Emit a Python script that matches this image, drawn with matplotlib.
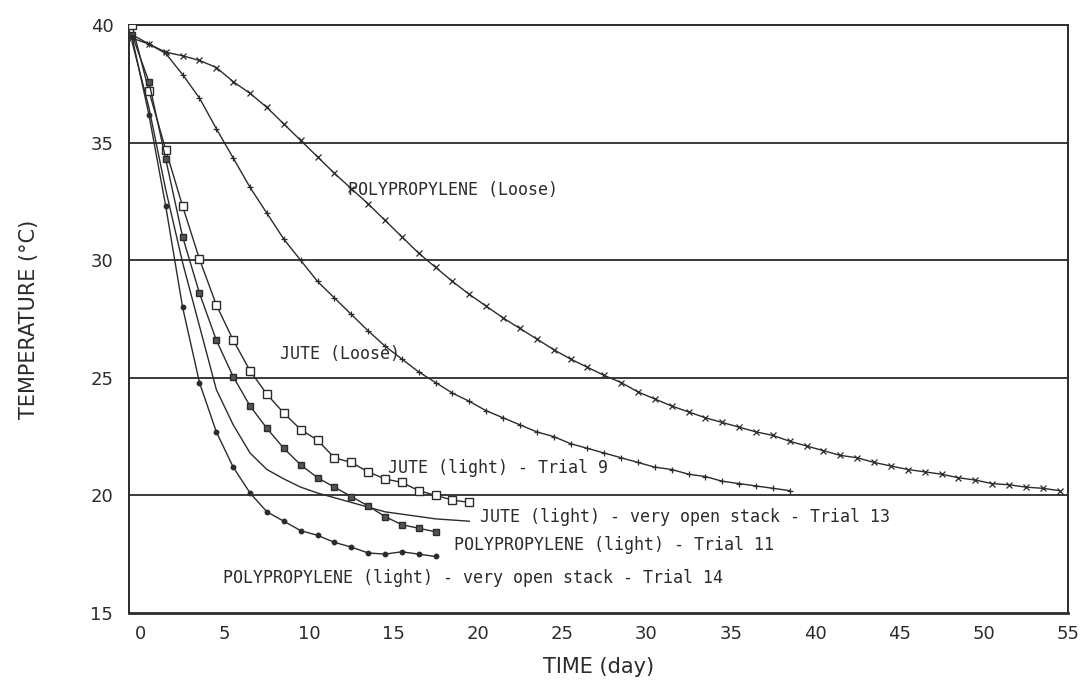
import matplotlib.pyplot as plt
import numpy as np

# cooling curves, temperature (deg C), one reading per day
poly_loose_t = np.arange(-0.5, 55.0, 1.0)
poly_loose = [39.45, 39.2, 38.85, 38.7, 38.5, 38.2, 37.6, 37.1, 36.5, 35.8,
              35.1, 34.4, 33.7, 33.05, 32.4, 31.7, 31.0, 30.3, 29.7, 29.1,
              28.55, 28.05, 27.55, 27.1, 26.65, 26.2, 25.8, 25.45, 25.1, 24.8,
              24.4, 24.1, 23.8, 23.55, 23.3, 23.1, 22.9, 22.7, 22.55, 22.3,
              22.1, 21.9, 21.7, 21.6, 21.4, 21.25, 21.1, 21.0, 20.9, 20.75,
              20.65, 20.5, 20.45, 20.35, 20.3, 20.2]

jute_loose_t = np.arange(-0.5, 39.0, 1.0)
jute_loose = [39.6, 39.2, 38.8, 37.9, 36.9, 35.6, 34.35, 33.1, 32.0, 30.9,
              30.0, 29.1, 28.4, 27.7, 27.0, 26.35, 25.8, 25.25, 24.8, 24.35,
              24.0, 23.6, 23.3, 23.0, 22.7, 22.5, 22.2, 22.0, 21.8, 21.6,
              21.4, 21.2, 21.1, 20.9, 20.8, 20.6, 20.5, 20.4, 20.3, 20.2]

jute_t9_t = np.arange(-0.5, 20.0, 1.0)
jute_t9 = [40.0, 37.2, 34.7, 32.3, 30.05, 28.1, 26.6, 25.3, 24.3, 23.5,
           22.8, 22.35, 21.6, 21.4, 21.0, 20.7, 20.55, 20.2, 20.0, 19.8, 19.7]

jute_t13_t = np.arange(-0.5, 20.0, 1.0)
jute_t13 = [39.3, 36.5, 33.0, 29.9, 27.2, 24.5, 23.0, 21.8, 21.1, 20.7,
            20.35, 20.1, 19.9, 19.7, 19.5, 19.3, 19.2, 19.1, 19.0, 18.95, 18.9]

poly_t11_t = np.arange(-0.5, 18.0, 1.0)
poly_t11 = [39.6, 37.6, 34.3, 31.0, 28.6, 26.6, 25.05, 23.8, 22.85, 22.0,
            21.3, 20.75, 20.35, 19.95, 19.55, 19.1, 18.75, 18.6, 18.45]

poly_t14_t = np.arange(-0.5, 18.0, 1.0)
poly_t14 = [39.5, 36.2, 32.3, 28.0, 24.8, 22.7, 21.2, 20.1, 19.3, 18.9,
            18.5, 18.3, 18.0, 17.8, 17.55, 17.5, 17.6, 17.5, 17.4]

x_ticks = [0, 5, 10, 15, 20, 25, 30, 35, 40, 45, 50, 55]
y_ticks = [15, 20, 25, 30, 35, 40]
grid_levels = [20, 25, 30, 35]

ink = "#2b2b2b"
plt.rcParams["font.family"] = ["DejaVu Sans"]

fig = plt.figure(figsize=(10.81, 6.81), dpi=100)
ax = fig.add_axes([0.119, 0.1, 0.869, 0.863])

for lvl in grid_levels:
    ax.axhline(lvl, color=ink, lw=1.3, zorder=1)

line_kw = dict(color=ink, lw=1.0, zorder=3)
ax.plot(poly_loose_t, poly_loose, marker="x", ms=5, mew=0.9, **line_kw)
ax.plot(jute_loose_t, jute_loose, marker="+", ms=5, mew=0.9, **line_kw)
ax.plot(jute_t9_t, jute_t9, marker="s", ms=6, mfc="white", mec=ink, mew=1.0, **line_kw)
ax.plot(jute_t13_t, jute_t13, **line_kw)
ax.plot(poly_t11_t, poly_t11, marker="s", ms=5, mfc="#555555", mec=ink, mew=1.0, **line_kw)
ax.plot(poly_t14_t, poly_t14, marker="o", ms=3.2, mfc=ink, mec=ink, **line_kw)

# curve labels, plotter-style fixed width lettering
txt = dict(fontsize=12, family="DejaVu Sans Mono", color=ink,
           va="center", ha="left", zorder=4)
ax.text(12.3, 33.0, "POLYPROPYLENE (Loose)", **txt)
ax.text(8.3, 26.0, "JUTE (Loose)", **txt)
ax.text(14.7, 21.15, "JUTE (light) - Trial 9", **txt)
ax.text(20.15, 19.1, "JUTE (light) - very open stack - Trial 13", **txt)
ax.text(18.6, 17.9, "POLYPROPYLENE (light) - Trial 11", **txt)
ax.text(4.9, 16.5, "POLYPROPYLENE (light) - very open stack - Trial 14", **txt)

ax.set_xlim(-0.7, 54.9)
ax.set_ylim(15, 40)
ax.set_xticks(x_ticks)
ax.set_yticks(y_ticks)
ax.tick_params(length=0, labelsize=13, colors=ink)
ax.tick_params(axis="x", pad=9)
ax.tick_params(axis="y", pad=11)

for side, spine in ax.spines.items():
    spine.set_color(ink)
    spine.set_linewidth(1.4)
ax.spines["bottom"].set_linewidth(2.0)

ax.set_xlabel("TIME (day)", fontsize=15, color=ink)
ax.set_ylabel("TEMPERATURE (°C)", fontsize=15, color=ink)
ax.xaxis.set_label_coords(0.5, -0.075)
ax.yaxis.set_label_coords(-0.095, 0.5)

fig.savefig("out.png", dpi=100)
